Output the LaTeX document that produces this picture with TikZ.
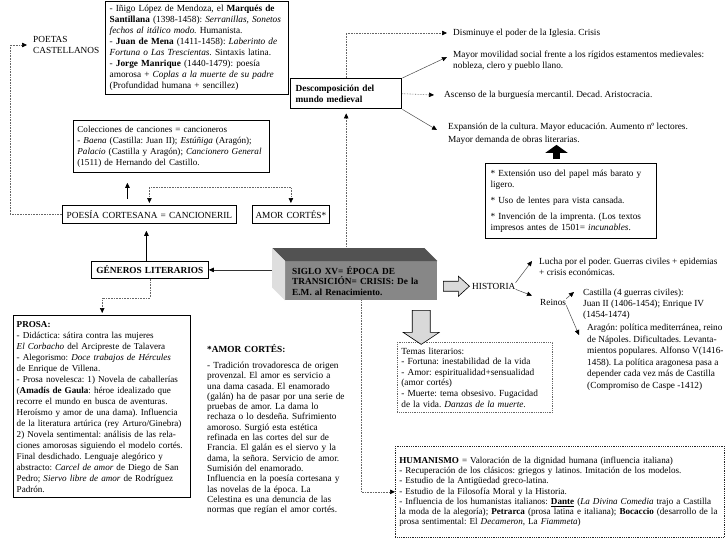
\documentclass[tikz,border=0pt]{standalone}
\usepackage{fontspec}
\setmainfont{Liberation Serif}
\usetikzlibrary{arrows.meta,calc}
\frenchspacing
\tikzset{
    txt/.style={font=\fontsize{9.3}{11}\selectfont, align=left, inner sep=0pt, anchor=north west},
    box/.style={txt, draw, line width=0.8pt, inner xsep=4pt, inner ysep=2pt},
    thickbox/.style={box, line width=1.4pt},
    dotbox/.style={box, draw=black!60, densely dotted, line width=0.7pt},
    tip/.style={-{Triangle[length=5pt,width=4.5pt,color=black]}},
    dotarrow/.style={tip, draw=black!60, densely dotted, line width=0.6pt},
    dotboth/.style={dotarrow, {Triangle[length=5pt,width=4.5pt,color=black]}-{Triangle[length=5pt,width=4.5pt,color=black]}},
    thinarrow/.style={tip, draw=black!70, line width=0.5pt},
    hollow/.style={draw=black, fill=black!15, line width=0.6pt}
}
\begin{document}
\begin{tikzpicture}[x=1pt, y=-1pt]
    \useasboundingbox (0,0) rectangle (728,546);
    \node[txt, anchor=west] (poetas) at (33,45) {POETAS\\CASTELLANOS};
    \node[thickbox, text width=175pt, minimum height=93pt] (poets) at (105,1) {- Iñigo López de Mendoza, el \textbf{Marqués de}\\\textbf{Santillana} (1398-1458): \textit{Serranillas, Sonetos}\\\textit{fechos al itálico modo.} Humanista.\\- \textbf{Juan de Mena} (1411-1458): \textit{Laberinto de}\\\textit{Fortuna o Las Trescientas.} Sintaxis latina.\\- \textbf{Jorge Manrique} (1440-1479): poesía\\amorosa + \textit{Coplas a la muerte de su padre}\\(Profundidad humana + sencillez)};
    \node[thickbox, font=\fontsize{9.3}{11}\selectfont\bfseries, text width=101pt, inner xsep=5pt, minimum height=30pt] (descomp) at (290,78) {Descomposición del\\mundo medieval};
    \node[txt, anchor=west] (dis) at (453,33) {Disminuye el poder de la Iglesia. Crisis};
    \node[txt] (mov) at (453,51) {Mayor movilidad social frente a los rígidos estamentos medievales:\\nobleza, clero y pueblo llano.};
    \node[txt, anchor=west] (asc) at (444,95) {Ascenso de la burguesía mercantil. Decad. Aristocracia.};
    \node[txt, font=\fontsize{9.3}{13}\selectfont] (exp) at (448,123) {Expansión de la cultura. Mayor educación. Aumento nº lectores.\\Mayor demanda de obras literarias.};
    \node[box, line width=1pt, text width=161pt, inner xsep=5pt, minimum height=75pt] (ext) at (485,163) {* Extensión uso del papel más barato y\\ligero.\\[5pt]* Uso de lentes para vista cansada.\\[5pt]* Invención de la imprenta. (Los textos\\impresos antes de 1501= \textit{incunables}.};
    \node[box, font=\fontsize{9.1}{11}\selectfont, text width=188pt, inner xsep=4pt, minimum height=52pt] (colec) at (73,120) {Colecciones de canciones = cancioneros\\- \textit{Baena} (Castilla: Juan II); \textit{Estúñiga} (Aragón);\\\textit{Palacio} (Castilla y Aragón); \textit{Cancionero General}\\(1511) de Hernando del Castillo.};
    \node[box, text width=168pt, inner xsep=3pt, minimum height=18pt, align=center] (poesia) at (62,205) {POESÍA CORTESANA = CANCIONERIL};
    \node[box, text width=72pt, inner xsep=2.5pt, minimum height=18pt, align=center] (amorc) at (252,205) {AMOR CORTÉS*};
    \node[box, font=\fontsize{9.3}{11}\selectfont\bfseries, text width=113pt, inner xsep=2pt, minimum height=17pt, align=center] (gen) at (91,261) {GÉNEROS LITERARIOS};
    \node[txt, fill=black!47, font=\fontsize{9.3}{10.5}\selectfont\bfseries, text width=138pt, inner xsep=7pt, minimum height=39pt, anchor=north west] (siglo) at (285,261) {SIGLO XV= ÉPOCA DE\\TRANSICIÓN= CRISIS: De la\\E.M. al Renacimiento.};
    \node[txt, anchor=west] (hist) at (472,286) {HISTORIA};
    \node[txt] (lucha) at (539,258) {Lucha por el poder. Guerras civiles + epidemias\\+ crisis económicas.};
    \node[txt, anchor=west] (reinos) at (540,302) {Reinos};
    \node[txt] (cast) at (583,289) {Castilla (4 guerras civiles):\\Juan II (1406-1454); Enrique IV\\(1454-1474)};
    \node[txt, font=\fontsize{9.3}{11.5}\selectfont] (arag) at (587,324) {Aragón: política mediterránea, reino\\de Nápoles. Dificultades. Levanta-\\mientos populares. Alfonso V(1416-\\1458). La política aragonesa pasa a\\depender cada vez más de Castilla\\(Compromiso de Caspe -1412)};
    \node[dotbox, font=\fontsize{9.3}{10.6}\selectfont, text width=147pt, minimum height=70pt] (temas) at (397,342) {Temas literarios:\\- Fortuna: inestabilidad de la vida\\- Amor: espiritualidad+sensualidad\\(amor cortés)\\- Muerte: tema obsesivo. Fugacidad\\de la vida. \textit{Danzas de la muerte.}};
    \node[dotbox, draw=black!85, font=\fontsize{9.1}{10.3}\selectfont, text width=321pt, inner xsep=4pt, minimum height=91pt] (hum) at (395,446) {\textbf{HUMANISMO} = Valoración de la dignidad humana (influencia italiana)\\- Recuperación de los clásicos: griegos y latinos. Imitación de los modelos.\\- Estudio de la Antigüedad greco-latina.\\- Estudio de la Filosofía Moral y la Historia.\\- Influencia de los humanistas italianos: \textbf{\underline{Dante}} (\textit{La Divina Comedia} trajo a Castilla\\la moda de la alegoría); \textbf{Petrarca} (prosa latina e italiana); \textbf{Bocaccio} (desarrollo de la\\prosa sentimental: El \textit{Decameron}, La \textit{Fiammeta})};
    \node[thickbox, font=\fontsize{9.1}{11}\selectfont, text width=171pt, inner xsep=3pt, minimum height=182pt] (prosa) at (13,315) {\textbf{PROSA:}\\- Didáctica: sátira contra las mujeres\\\textit{El Corbacho} del Arcipreste de Talavera\\- Alegorismo: \textit{Doce trabajos de Hércules}\\de Enrique de Villena.\\- Prosa novelesca: 1) Novela de caballerías\\(\textbf{Amadís de Gaula}: héroe idealizado que\\recorre el mundo en busca de aventuras.\\Heroísmo y amor de una dama). Influencia\\de la literatura artúrica (rey Arturo/Ginebra)\\2) Novela sentimental: análisis de las rela-\\ciones amorosas siguiendo el modelo cortés.\\Final desdichado. Lenguaje alegórico y\\abstracto: \textit{Carcel de amor} de Diego de San\\Pedro; \textit{Siervo libre de amor} de Rodríguez\\Padrón.};
    \node[txt, font=\fontsize{9.3}{10.3}\selectfont, text width=150pt] (amortxt) at (207,344) {\textbf{*AMOR CORTÉS:}\\[6pt]- Tradición trovadoresca de origen\\provenzal. El amor es servicio a\\una dama casada. El enamorado\\(galán) ha de pasar por una serie de\\pruebas de amor. La dama lo\\rechaza o lo desdeña. Sufrimiento\\amoroso. Surgió esta estética\\refinada en las cortes del sur de\\Francia. El galán es el siervo y la\\dama, la señora. Servicio de amor.\\Sumisión del enamorado.\\Influencia en la poesía cortesana y\\las novelas de la época. La\\Celestina es una denuncia de las\\normas que regían el amor cortés.};
    \draw[dotarrow, shorten >=6pt] (poesia.west) -- ++(-52,0) |- (poetas.west);
    \draw[dotarrow] (descomp.north) |- ([xshift=-6pt]dis.west);
    \draw[thinarrow] (descomp.north east) -- ($(mov.north west)+(-6,6)$);
    \draw[dotarrow] (descomp.east) -- ([xshift=-10pt]asc.west);
    \draw[thinarrow] (descomp.south east) -- ($(exp.north west)+(-11,7)$);
    \draw[line width=7pt, shorten <=4pt, -{Triangle[length=8pt,width=22pt]}] ([xshift=-14.5pt]ext.north) -- ([xshift=-14.5pt]ext.north |- exp.south);
    \draw[dotboth, shorten <=2pt, shorten >=2pt] (poesia.north) -- ++(0,-18) -| (amorc.north);
    \draw[thinarrow, draw=black, line width=1pt, shorten <=6pt, shorten >=10pt] ([xshift=-22pt]poesia.north) -- ([xshift=-22pt]poesia.north |- colec.south);
    \draw[thinarrow, draw=black, line width=0.8pt, shorten >=7pt] ([xshift=-3.5pt]gen.north) -- ([xshift=-3.5pt]gen.north |- poesia.south);
    \draw[dotarrow, shorten >=2pt] (gen.south) -- ++(0,19) -| (prosa.north);
    \draw[thinarrow, draw=black!80, line width=0.6pt] (siglo.west |- gen.east) -- (gen.east);
    \draw[dotarrow, shorten >=4pt] (descomp.south |- siglo.north) -- (descomp.south);
    \draw[dotarrow] (siglo.south) |- (hum.west);
    \fill[black!68] (siglo.north west) -- ++(-13,-13) -- ($(siglo.north east)+(-13,-13)$) -- (siglo.north east) -- cycle;
    \fill[black!13] (siglo.north west) -- ++(-13,-13) -- ($(siglo.south west)+(-13,-13)$) -- (siglo.south west) -- cycle;
    \draw[hollow] ($(siglo.east)+(6,5.5)$) ++(0,-5) -- ++(15,0) -- ++(0,-5) -- ++(11,10) -- ++(-11,10) -- ++(0,-5) -- ++(-15,0) -- cycle;
    \draw[hollow] ($(siglo.south)+(60,10)$) ++(-9,0) -- ++(18,0) -- ++(0,22) -- ++(9,0) -- ++(-18,12) -- ++(-18,-12) -- ++(9,0) -- cycle;
    \draw[thinarrow] (hist.north east) -- ($(lucha.west)+(-7,-6)$);
    \draw[thinarrow] (hist.south east) -- ($(reinos.north west)+(-8,-3)$);
    \draw[thinarrow] (reinos.north east) -- ($(cast.north west)+(-9,3)$);
    \draw[thinarrow] (reinos.south east) -- ($(arag.north west)+(-8,11)$);
\end{tikzpicture}
\end{document}
